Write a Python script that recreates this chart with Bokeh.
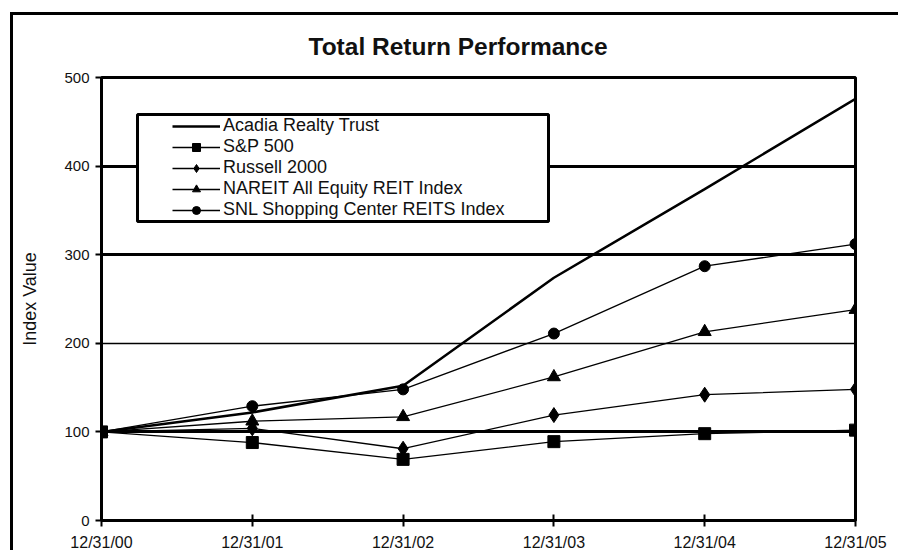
from bokeh.plotting import figure
from bokeh.layouts import column
from bokeh.models import (FixedTicker, Grid, Legend, LegendItem, BoxAnnotation,
                          Range1d, ColumnDataSource, GlobalInlineStyleSheet,
                          InlineStyleSheet)
from bokeh.embed import file_html
from bokeh.resources import INLINE

dates = ["12/31/00", "12/31/01", "12/31/02", "12/31/03", "12/31/04", "12/31/05"]
acadia = [100, 122, 152, 274, 374, 476]
sp500 = [100, 88, 69, 89, 98, 102]
russell = [100, 104, 81, 119, 142, 148]
nareit = [100, 112, 117, 162, 213, 238]
snl = [100, 129, 148, 211, 287, 312]
y_ticks = [0, 100, 200, 300, 400, 500]
thick_grid = [100, 300, 400]
thin_grid = [200]

FONT = "Liberation Sans"
INK = "#111111"

# canvas origin on the page (outer frame drawn as a shadow of the wrapper)
OX, OY = 13, 15

xs = list(range(len(dates)))
src = ColumnDataSource(dict(x=xs, acadia=acadia, sp500=sp500, russell=russell,
                            nareit=nareit, snl=snl))

p = figure(width=901 - OX, height=553 - OY, output_backend="svg",
           toolbar_location=None,
           x_range=Range1d(0, 5), y_range=Range1d(0, 500),
           min_border_left=101 - OX, min_border_right=46, min_border_top=77 - OY,
           min_border_bottom=31)

p.title.text = "Total Return Performance"
p.title.align = "left"
p.title.vertical_align = "top"
p.title.text_font = FONT
p.title.text_font_size = "24.5px"
p.title.text_font_style = "bold"
p.title.text_color = INK
p.title.standoff = 32
p.title.offset = 207

p.outline_line_color = "black"
p.outline_line_width = 3
p.xgrid.visible = False
p.ygrid.visible = False

g1 = Grid(dimension=1, ticker=FixedTicker(ticks=thick_grid),
          grid_line_color="black", grid_line_width=3)
g2 = Grid(dimension=1, ticker=FixedTicker(ticks=thin_grid),
          grid_line_color="black", grid_line_width=1.5)
p.add_layout(g1)
p.add_layout(g2)

xa = p.xaxis[0]
xa.ticker = FixedTicker(ticks=xs)
xa.major_label_overrides = {i: d for i, d in zip(xs, dates)}
xa.axis_line_width = 3
xa.axis_line_color = "black"
xa.major_tick_in = 6
xa.major_tick_out = 6
xa.major_tick_line_width = 2
xa.minor_tick_line_color = None
xa.major_label_text_font = FONT
xa.major_label_text_font_size = "16px"
xa.major_label_text_color = INK
xa.major_label_standoff = 7

ya = p.yaxis[0]
ya.ticker = FixedTicker(ticks=y_ticks)
ya.axis_line_width = 3
ya.axis_line_color = "black"
ya.major_tick_in = 0
ya.major_tick_out = 6
ya.major_tick_line_width = 2
ya.minor_tick_line_color = None
ya.major_label_text_font = FONT
ya.major_label_text_font_size = "15px"
ya.major_label_text_color = INK
ya.major_label_standoff = 6
ya.axis_label = "Index Value"
ya.axis_label_text_font = FONT
ya.axis_label_text_font_size = "18px"
ya.axis_label_text_font_style = "normal"
ya.axis_label_text_color = INK
ya.axis_label_standoff = 21

# series
r_sp_l = p.line("x", "sp500", source=src, line_color="black", line_width=1.3)
r_ru_l = p.line("x", "russell", source=src, line_color="black", line_width=1.3)
r_na_l = p.line("x", "nareit", source=src, line_color="black", line_width=1.3)
r_sn_l = p.line("x", "snl", source=src, line_color="black", line_width=1.3)
r_ac_l = p.line("x", "acadia", source=src, line_color="black", line_width=2.5)

r_ru_m = p.scatter("x", "russell", source=src, marker="diamond", size=15,
                   fill_color="black", line_color="black")
r_na_m = p.scatter("x", "nareit", source=src, marker="triangle", size=13,
                   fill_color="black", line_color="black")
r_sn_m = p.scatter("x", "snl", source=src, marker="circle", size=11,
                   fill_color="black", line_color="black")
r_sp_m = p.scatter("x", "sp500", source=src, marker="square", size=12,
                   fill_color="black", line_color="black")

# legend box (canvas pixels)
p.add_layout(BoxAnnotation(left=137 - OX, right=548 - OX, top=114 - OY,
                           bottom=221 - OY,
                           left_units="canvas", right_units="canvas",
                           top_units="canvas", bottom_units="canvas",
                           fill_color="white", fill_alpha=1,
                           line_color="black", line_alpha=1, line_width=3))

legend = Legend(items=[
    LegendItem(label="Acadia Realty Trust", renderers=[r_ac_l]),
    LegendItem(label="S&P 500", renderers=[r_sp_l, r_sp_m]),
    LegendItem(label="Russell 2000", renderers=[r_ru_l, r_ru_m]),
    LegendItem(label="NAREIT All Equity REIT Index", renderers=[r_na_l, r_na_m]),
    LegendItem(label="SNL Shopping Center REITS Index", renderers=[r_sn_l, r_sn_m]),
], location=(71, 300), orientation="vertical")
legend.border_line_alpha = 0
legend.background_fill_alpha = 0
legend.padding = 0
legend.margin = 0
legend.spacing = 0
legend.glyph_width = 48
legend.glyph_height = 20
legend.label_height = 20
legend.label_standoff = 3
legend.label_text_font = FONT
legend.label_text_font_size = "18px"
legend.label_text_color = INK
p.add_layout(legend)

page = column(p, margin=(OY, 0, 0, OX),
              styles={"box-shadow": "-3px -3px 0 0 black",
                      "background": "white", "overflow": "hidden"},
              stylesheets=[GlobalInlineStyleSheet(
                  css="html, body { overflow: hidden; }"),
                  InlineStyleSheet(css=":host { overflow: hidden; }")])

open("out.html", "w").write(file_html(page, INLINE))
